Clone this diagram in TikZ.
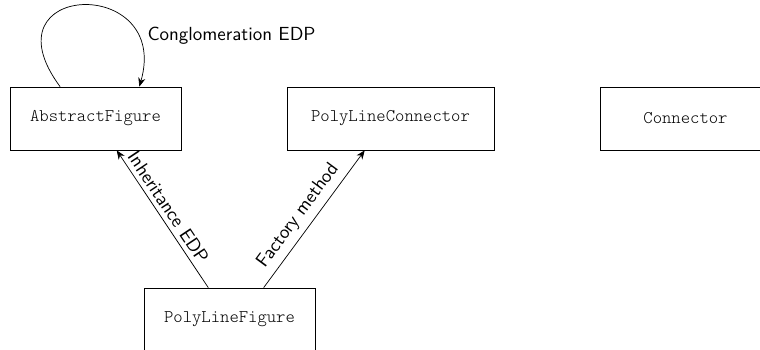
\documentclass[tikz,border=0pt]{standalone}
\usepackage{fontspec}
\setmonofont{Latin Modern Mono Light}
\usetikzlibrary{arrows.meta}
\newcommand\edgelabelfont{\sffamily\fontsize{10.65}{12}\selectfont}
\tikzset{
  classbox/.style={draw, rectangle, font=\ttfamily, inner sep=0pt,
    minimum width=96.07pt, minimum height=35.4pt},
  rel/.style={draw, -{Stealth[length=5pt, width=4pt]}},
  rellabel/.style={font=\edgelabelfont},
}
\begin{document}
\begin{tikzpicture}[x=0.5618pt, y=-0.5618pt]
  \useasboundingbox (0,0) rectangle (760,349);
  \clip (0,0) rectangle (760,349);

  % classes
  \node[classbox] (af)  at (95.5,118.5)  {AbstractFigure};
  \node[classbox, minimum width=116.3pt] (plc) at (390.5,118.5) {PolyLineConnector};
  \node[classbox] (con) at (685.5,118.5) {Connector};
  \node[classbox] (plf) at (229.5,319.5) {PolyLineFigure};

  % self relation of AbstractFigure
  \draw[rel] (af.138) .. controls +(-78,-105) and +(32,-112) .. (af.36)
    node[rellabel, pos=0.8, anchor=west, xshift=3pt, yshift=-1.5pt] (lconglo) {Conglomeration EDP};

  % relations from PolyLineFigure
  \draw[rel] (plf) -- (af)
    node[rellabel, pos=0.54, above, sloped, inner sep=2.5pt] (linherit) {Inheritance EDP};
  \draw[rel] (plf.43) -- (plc.231)
    node[rellabel, pos=0.46, above, sloped] (lfactory) {Factory method};
\end{tikzpicture}
\end{document}
